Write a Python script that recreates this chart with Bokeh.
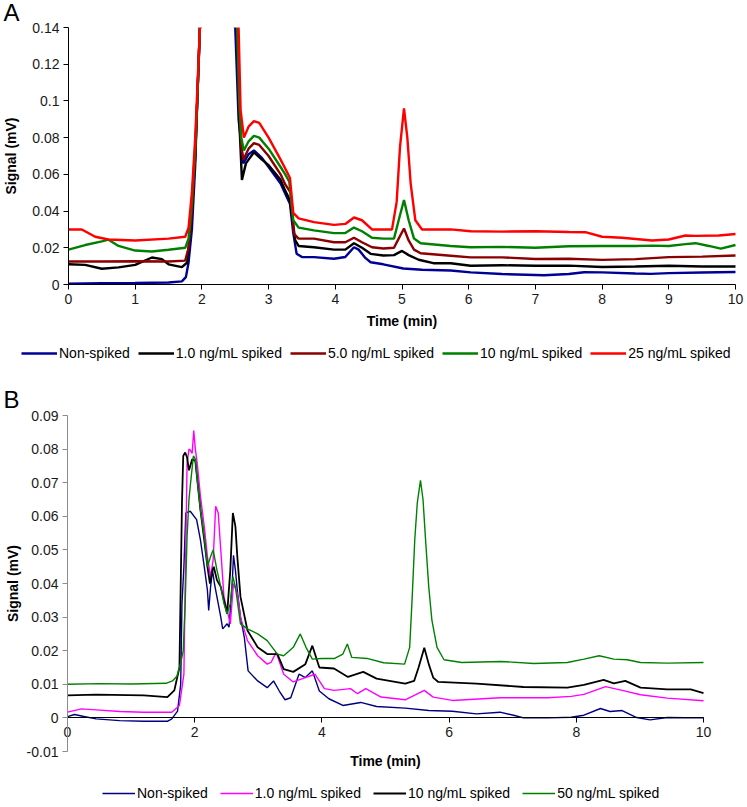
from bokeh.plotting import figure
from bokeh.models import Legend, LegendItem, FixedTicker, Label, Range1d, BoxAnnotation
from bokeh.layouts import column
from bokeh.embed import file_html
from bokeh.resources import INLINE

FONT = "Liberation Sans"
TICK_COLOR = "#1a1a1a"

# ---------------- Panel A data (time in min, signal in mV; the main peak is off scale) ----------------
a_nonspiked_t = [0, 0.5, 1.0, 1.5, 1.7, 1.76, 1.8, 1.85, 1.9, 1.93, 1.97, 2.25, 2.5, 2.55, 2.62,
                 2.7, 2.78, 2.9, 3.0, 3.18, 3.25, 3.32, 3.37, 3.42, 3.5, 3.68, 3.98, 4.15, 4.28, 4.35,
                 4.45, 4.53, 4.72, 5.02, 5.3, 5.73, 6.03, 6.5, 7.0, 7.13, 7.5, 7.73, 8.0, 8.5, 8.73,
                 9.0, 9.5, 10.0]
a_nonspiked_v = [0.0004, 0.0007, 0.0008, 0.0011, 0.0017, 0.004, 0.012, 0.03, 0.065, 0.1, 0.14, 0.15,
                 0.14, 0.09, 0.066, 0.071, 0.073, 0.069, 0.064, 0.055, 0.0495, 0.044, 0.028, 0.0168,
                 0.015, 0.0149, 0.014, 0.015, 0.0203, 0.019, 0.0145, 0.0121, 0.011, 0.0087, 0.008,
                 0.0076, 0.0066, 0.0057, 0.0052, 0.005, 0.0057, 0.0067, 0.0066, 0.006, 0.0058,
                 0.0062, 0.0065, 0.0068]

a_1ng_t = [0, 0.25, 0.5, 0.75, 1.0, 1.25, 1.4, 1.5, 1.7, 1.78, 1.85, 1.9, 1.93, 1.97, 2.25, 2.53,
           2.56, 2.6, 2.66, 2.78, 2.9, 3.0, 3.18, 3.25, 3.32, 3.4, 3.45, 3.68, 3.98, 4.15, 4.28, 4.4,
           4.53, 4.72, 4.88, 5.0, 5.1, 5.25, 5.47, 5.73, 6.03, 6.5, 7.0, 7.5, 8.0, 8.5, 9.0, 9.5, 10.0]
a_1ng_v = [0.011, 0.0107, 0.0086, 0.0093, 0.0107, 0.0147, 0.0138, 0.011, 0.0095, 0.012, 0.04, 0.07,
           0.1, 0.14, 0.15, 0.14, 0.09, 0.057, 0.066, 0.072, 0.068, 0.065, 0.057, 0.051, 0.046, 0.024,
           0.021, 0.0203, 0.019, 0.019, 0.0225, 0.020, 0.0167, 0.0158, 0.016, 0.0183, 0.016, 0.0135,
           0.0116, 0.0116, 0.0102, 0.0105, 0.0102, 0.0103, 0.0095, 0.0098, 0.0102, 0.0098, 0.0098]

a_5ng_t = [0, 0.5, 1.0, 1.5, 1.75, 1.8, 1.85, 1.9, 1.93, 1.97, 2.25, 2.53, 2.56, 2.59, 2.62, 2.7,
           2.78, 2.86, 3.0, 3.18, 3.25, 3.33, 3.38, 3.45, 3.68, 3.98, 4.15, 4.28, 4.4, 4.55, 4.72,
           4.88, 4.95, 5.03, 5.1, 5.18, 5.28, 5.73, 6.03, 6.5, 7.0, 7.5, 8.0, 8.5, 9.0, 9.5, 10.0]
a_5ng_v = [0.0125, 0.0125, 0.0127, 0.0125, 0.013, 0.02, 0.04, 0.07, 0.1, 0.14, 0.15, 0.14, 0.1, 0.075,
           0.068, 0.074, 0.077, 0.076, 0.07, 0.060, 0.0545, 0.05, 0.0276, 0.025, 0.025, 0.023, 0.023,
           0.0255, 0.023, 0.0203, 0.0196, 0.020, 0.025, 0.0305, 0.024, 0.019, 0.017, 0.0157, 0.0148,
           0.0148, 0.0139, 0.014, 0.0134, 0.0138, 0.0149, 0.0152, 0.0158]

a_10ng_t = [0, 0.25, 0.5, 0.6, 0.75, 1.0, 1.25, 1.5, 1.75, 1.8, 1.85, 1.9, 1.93, 1.97, 2.25, 2.53,
            2.56, 2.59, 2.63, 2.7, 2.78, 2.86, 3.0, 3.18, 3.25, 3.31, 3.37, 3.45, 3.68, 3.98, 4.15,
            4.28, 4.4, 4.55, 4.72, 4.88, 4.95, 5.03, 5.1, 5.18, 5.28, 5.73, 6.03, 6.5, 7.0, 7.5, 8.0,
            8.5, 8.75, 9.0, 9.25, 9.4, 9.6, 9.78, 10.0]
a_10ng_v = [0.019, 0.0215, 0.0235, 0.0244, 0.021, 0.0185, 0.018, 0.0189, 0.020, 0.025, 0.045, 0.075,
            0.1, 0.14, 0.15, 0.14, 0.1, 0.08, 0.073, 0.078, 0.081, 0.080, 0.074, 0.064, 0.06, 0.056,
            0.035, 0.031, 0.0295, 0.028, 0.028, 0.031, 0.029, 0.0255, 0.025, 0.025, 0.035, 0.046,
            0.035, 0.025, 0.0225, 0.021, 0.0203, 0.0205, 0.020, 0.0208, 0.021, 0.021, 0.0212, 0.021,
            0.022, 0.0225, 0.021, 0.0195, 0.0215]

a_25ng_t = [0, 0.2, 0.4, 0.6, 1.0, 1.5, 1.75, 1.8, 1.85, 1.9, 1.93, 1.97, 2.25, 2.55, 2.58, 2.63,
            2.7, 2.78, 2.86, 3.0, 3.18, 3.28, 3.32, 3.37, 3.45, 3.68, 3.98, 4.15, 4.28, 4.4, 4.55,
            4.72, 4.85, 4.92, 4.97, 5.03, 5.08, 5.13, 5.2, 5.3, 5.73, 6.03, 6.5, 7.0, 7.5, 7.75, 8.0,
            8.3, 8.75, 9.0, 9.25, 9.4, 9.75, 10.0]
a_25ng_v = [0.030, 0.030, 0.026, 0.0245, 0.024, 0.025, 0.026, 0.031, 0.05, 0.08, 0.105, 0.14, 0.15,
            0.14, 0.095, 0.08, 0.086, 0.089, 0.088, 0.080, 0.068, 0.061, 0.058, 0.039, 0.036, 0.034,
            0.0325, 0.033, 0.0365, 0.035, 0.030, 0.030, 0.030, 0.045, 0.075, 0.096, 0.08, 0.055,
            0.035, 0.030, 0.030, 0.029, 0.0288, 0.029, 0.0286, 0.0285, 0.026, 0.0255, 0.024, 0.0245,
            0.0267, 0.0265, 0.0267, 0.0275]

a_labels = ["Non-spiked", "1.0 ng/mL spiked", "5.0 ng/mL spiked", "10 ng/mL spiked", "25 ng/mL spiked"]
a_colors = ["#000096", "#000000", "#8B0000", "#008000", "#FF0000"]
a_xticks = [0, 1, 2, 3, 4, 5, 6, 7, 8, 9, 10]
a_yticks = [0, 0.02, 0.04, 0.06, 0.08, 0.1, 0.12, 0.14]
a_ylabels = ["0", "0.02", "0.04", "0.06", "0.08", "0.1", "0.12", "0.14"]

# ---------------- Panel B data ----------------
b_nonspiked_t = [0, 0.11, 0.26, 0.45, 0.82, 1.2, 1.57, 1.64, 1.73, 1.78, 1.8, 1.83, 1.86, 1.93, 2.03,
                 2.09, 2.15, 2.2, 2.22, 2.25, 2.28, 2.31, 2.35, 2.41, 2.44, 2.51, 2.54, 2.59, 2.61,
                 2.64, 2.67, 2.72, 2.78, 2.84, 2.99, 3.14, 3.24, 3.33, 3.42, 3.51, 3.64, 3.74, 3.85,
                 3.96, 4.11, 4.33, 4.61, 4.86, 5.31, 5.68, 6.05, 6.43, 6.8, 7.03, 7.17, 7.55, 7.92,
                 8.12, 8.38, 8.53, 8.72, 8.95, 9.16, 9.43, 10.0]
b_nonspiked_v = [0.0004, 0.001, 0.0004, -0.0003, -0.0008, -0.001, -0.001, -0.0003, 0.002, 0.01,
                 0.034, 0.045, 0.061, 0.0615, 0.059, 0.053, 0.045, 0.038, 0.032, 0.039, 0.044, 0.040,
                 0.036, 0.030, 0.0265, 0.028, 0.027, 0.040, 0.0484, 0.044, 0.038, 0.030, 0.024, 0.014,
                 0.011, 0.009, 0.011, 0.008, 0.0054, 0.006, 0.013, 0.012, 0.014, 0.008, 0.0057,
                 0.0037, 0.0046, 0.0034, 0.0029, 0.0022, 0.002, 0.0012, 0.0017, 0.0007, 0.0, 0.0,
                 0.0002, 0.0008, 0.0028, 0.0019, 0.0022, 0.0001, -0.0006, 0.0001, 0.0]

b_1ng_t = [0, 0.22, 0.45, 0.82, 1.2, 1.64, 1.76, 1.83, 1.88, 1.91, 1.93, 1.96, 1.985, 2.01, 2.04,
           2.09, 2.15, 2.2, 2.25, 2.29, 2.33, 2.37, 2.41, 2.46, 2.51, 2.56, 2.61, 2.67, 2.72, 2.83,
           2.99, 3.14, 3.2, 3.28, 3.4, 3.55, 3.74, 3.89, 4.04, 4.19, 4.45, 4.56, 4.69, 4.93, 5.31,
           5.61, 5.75, 6.05, 6.8, 7.55, 7.92, 8.12, 8.46, 8.74, 9.01, 9.43, 10.0]
b_1ng_v = [0.0017, 0.0027, 0.0024, 0.0019, 0.0017, 0.0017, 0.0037, 0.013, 0.0757, 0.080, 0.0797,
           0.0787, 0.0855, 0.080, 0.0757, 0.066, 0.057, 0.048, 0.042, 0.047, 0.063, 0.061, 0.050,
           0.036, 0.032, 0.028, 0.040, 0.037, 0.030, 0.023, 0.0185, 0.016, 0.0165, 0.0195, 0.013,
           0.0107, 0.012, 0.013, 0.0087, 0.0082, 0.0087, 0.0072, 0.0087, 0.0062, 0.0054, 0.0082,
           0.0062, 0.0052, 0.006, 0.006, 0.0064, 0.007, 0.0093, 0.0081, 0.0069, 0.0059, 0.0051]

b_10ng_t = [0, 0.45, 1.2, 1.57, 1.68, 1.76, 1.8, 1.82, 1.85, 1.88, 1.91, 1.93, 1.96, 2.01, 2.04,
            2.09, 2.15, 2.2, 2.24, 2.28, 2.3, 2.35, 2.41, 2.46, 2.51, 2.56, 2.6, 2.64, 2.67, 2.72,
            2.83, 2.99, 3.14, 3.3, 3.4, 3.55, 3.74, 3.85, 3.96, 4.19, 4.41, 4.65, 4.86, 5.31, 5.45,
            5.52, 5.61, 5.68, 5.75, 5.83, 6.43, 7.17, 7.86, 8.12, 8.43, 8.59, 8.77, 9.01, 9.43, 9.8,
            10.0]
b_10ng_v = [0.0067, 0.0069, 0.0067, 0.0062, 0.0082, 0.015, 0.064, 0.078, 0.079, 0.0775, 0.0737,
            0.075, 0.077, 0.0765, 0.071, 0.062, 0.053, 0.045, 0.040, 0.044, 0.045, 0.041, 0.039,
            0.035, 0.031, 0.044, 0.061, 0.057, 0.048, 0.036, 0.026, 0.021, 0.019, 0.019, 0.0145,
            0.0137, 0.016, 0.0215, 0.015, 0.0147, 0.0122, 0.0137, 0.0117, 0.0102, 0.011, 0.015,
            0.0209, 0.016, 0.012, 0.0107, 0.0102, 0.0092, 0.009, 0.0098, 0.0113, 0.0103, 0.011,
            0.009, 0.0085, 0.0085, 0.0074]

b_50ng_t = [0, 0.5, 1.0, 1.55, 1.65, 1.72, 1.78, 1.82, 1.85, 1.88, 1.91, 1.93, 1.98, 2.01, 2.04,
            2.09, 2.15, 2.2, 2.25, 2.29, 2.35, 2.41, 2.46, 2.51, 2.56, 2.6, 2.64, 2.72, 2.83, 2.99,
            3.14, 3.3, 3.4, 3.55, 3.66, 3.75, 3.85, 4.0, 4.2, 4.33, 4.4, 4.47, 4.71, 4.97, 5.3, 5.38,
            5.42, 5.46, 5.5, 5.55, 5.59, 5.63, 5.68, 5.73, 5.81, 5.92, 6.2, 6.81, 7.33, 7.86, 8.12,
            8.36, 8.59, 8.8, 9.01, 9.43, 10.0]
b_50ng_v = [0.010, 0.0102, 0.0101, 0.0103, 0.011, 0.0124, 0.0164, 0.02, 0.034, 0.054, 0.065, 0.069,
            0.078, 0.077, 0.071, 0.062, 0.054, 0.045, 0.048, 0.050, 0.044, 0.039, 0.034, 0.031,
            0.034, 0.042, 0.039, 0.028, 0.0265, 0.025, 0.023, 0.019, 0.0185, 0.021, 0.025, 0.021,
            0.0175, 0.0177, 0.0177, 0.019, 0.022, 0.018, 0.0177, 0.0164, 0.016, 0.021, 0.036, 0.053,
            0.064, 0.0707, 0.065, 0.053, 0.039, 0.029, 0.021, 0.0173, 0.0165, 0.0168, 0.0162,
            0.0165, 0.0175, 0.0185, 0.0175, 0.0173, 0.0165, 0.0163, 0.0165]

b_labels = ["Non-spiked", "1.0 ng/mL spiked", "10 ng/mL spiked", "50 ng/mL spiked"]
b_colors = ["#000080", "#FF00FF", "#000000", "#008000"]
b_xticks = [0, 2, 4, 6, 8, 10]
b_yticks = [-0.01, 0, 0.01, 0.02, 0.03, 0.04, 0.05, 0.06, 0.07, 0.08, 0.09]
b_ylabels = ["-0.01", "0", "0.01", "0.02", "0.03", "0.04", "0.05", "0.06", "0.07", "0.08", "0.09"]


def style_axis(ax, line_color, label_standoff=6):
    ax.axis_line_color = line_color
    ax.axis_line_width = 1
    ax.major_tick_line_color = line_color
    ax.minor_tick_line_color = None
    ax.major_tick_out = 5
    ax.major_tick_in = 0
    ax.major_label_text_font = FONT
    ax.major_label_text_font_size = "14px"
    ax.major_label_text_color = TICK_COLOR
    ax.major_label_standoff = 4
    ax.axis_label_text_font = FONT
    ax.axis_label_text_font_size = "14px"
    ax.axis_label_text_font_style = "bold"
    ax.axis_label_text_color = "#000000"
    ax.axis_label_standoff = label_standoff


def make_legend(items, glyph_width, spacing, loc):
    return Legend(items=items, orientation="horizontal", location=loc,
                  border_line_color=None, background_fill_alpha=0,
                  label_text_font=FONT, label_text_font_size="14px", label_text_color="#000000",
                  glyph_width=glyph_width, glyph_height=16, label_height=16,
                  label_standoff=2, spacing=spacing, padding=0, margin=0)


def panel_letter(text, height, cap_top):
    return Label(x=3, y=height - cap_top - 7, x_units="screen", y_units="screen", text=text,
                 text_font=FONT, text_font_size="24px", text_baseline="alphabetic",
                 text_align="left", text_color="#000000")


# ---------------- Panel A (layout in px) ----------------
A_W, A_H = 747, 375
A_X0, A_X10 = 68, 735                    # pixel where t=0 and t=10 fall
A_YTOP, A_Y0 = 27, 284                   # pixel where 0.14 and 0 fall
a_ppx = (A_X10 - A_X0) / 10.0
a_ppy = (A_Y0 - A_YTOP) / 0.14
a_yrange = Range1d(-(A_H - A_Y0) / a_ppy, 0.14 + A_YTOP / a_ppy)
pa = figure(width=A_W, height=A_H,
            x_range=Range1d(-A_X0 / a_ppx, 10 + (A_W - A_X10) / a_ppx),
            y_range=a_yrange,
            min_border_left=0, min_border_right=0, min_border_top=0, min_border_bottom=0,
            frame_align=False, output_backend="svg", toolbar_location=None)
pa.outline_line_color = None
pa.grid.visible = False

a_series = [(a_nonspiked_t, a_nonspiked_v), (a_1ng_t, a_1ng_v), (a_5ng_t, a_5ng_v),
            (a_10ng_t, a_10ng_v), (a_25ng_t, a_25ng_v)]
a_items = []
for (t, v), lab, col in zip(a_series, a_labels, a_colors):
    r = pa.line(t, v, line_color=col, line_width=2.4)
    a_items.append(LegendItem(label=lab, renderers=[r]))
# the plot area ends at the top of the axis: hide whatever lies above it
pa.add_layout(BoxAnnotation(bottom=a_yticks[-1], fill_color="white", fill_alpha=1.0,
                            line_alpha=0, level="glyph"))

xa = pa.xaxis[0]
style_axis(xa, "#000000", label_standoff=6)
xa.fixed_location = 0
xa.bounds = (0, 10)
xa.ticker = FixedTicker(ticks=a_xticks)
xa.axis_label = "Time (min)"
ya = pa.yaxis[0]
style_axis(ya, "#000000", label_standoff=10)
ya.fixed_location = 0
ya.bounds = (0, 0.14)
ya.ticker = FixedTicker(ticks=a_yticks)
ya.major_label_overrides = dict(zip(a_yticks, a_ylabels))
ya.axis_label = "Signal (mV)"
pa.add_layout(make_legend(a_items, 36, 8, (21, 14)))
pa.add_layout(panel_letter("A", A_H, 5))

# ---------------- Panel B (layout in px) ----------------
B_W, B_H = 747, 432
B_X0, B_X10 = 67, 703                    # pixel where t=0 and t=10 fall
B_YTOP, B_YBOT = 40, 376                 # pixel where 0.09 and -0.01 fall
b_ppx = (B_X10 - B_X0) / 10.0
b_ppy = (B_YBOT - B_YTOP) / 0.10
pb = figure(width=B_W, height=B_H,
            x_range=Range1d(-B_X0 / b_ppx, 10 + (B_W - B_X10) / b_ppx),
            y_range=Range1d(-0.01 - (B_H - B_YBOT) / b_ppy, 0.09 + B_YTOP / b_ppy),
            min_border_left=0, min_border_right=0, min_border_top=0, min_border_bottom=0,
            frame_align=False, output_backend="svg", toolbar_location=None)
pb.outline_line_color = None
pb.grid.visible = False

b_series = [(b_nonspiked_t, b_nonspiked_v), (b_1ng_t, b_1ng_v), (b_10ng_t, b_10ng_v),
            (b_50ng_t, b_50ng_v)]
b_widths = [1.4, 1.4, 1.8, 1.4]
b_items = []
for (t, v), lab, col, w in zip(b_series, b_labels, b_colors, b_widths):
    r = pb.line(t, v, line_color=col, line_width=w)
    b_items.append(LegendItem(label=lab, renderers=[r]))

xb = pb.xaxis[0]
style_axis(xb, "#000000", label_standoff=13)
xb.fixed_location = 0
xb.bounds = (0, 10)
xb.ticker = FixedTicker(ticks=b_xticks)
xb.axis_label = "Time (min)"
yb = pb.yaxis[0]
style_axis(yb, "#8c8c8c", label_standoff=3)
yb.fixed_location = 0
yb.bounds = (-0.01, 0.09)
yb.ticker = FixedTicker(ticks=b_yticks)
yb.major_label_overrides = dict(zip(b_yticks, b_ylabels))
yb.axis_label = "Signal (mV)"
pb.add_layout(make_legend(b_items, 33, 12, (102, 6)))
pb.add_layout(panel_letter("B", B_H, 17))

layout = column(pa, pb, spacing=0)
open("out.html", "w").write(file_html(layout, INLINE))
